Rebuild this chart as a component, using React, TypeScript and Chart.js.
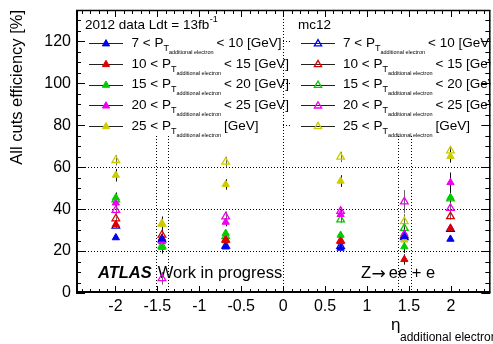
import React, { useEffect, useRef } from 'react';
import { Chart, registerables } from 'chart.js';

Chart.register(...registerables);

// ---- data ----
const etaBins = [-1.995, -1.445, -0.685, 0.685, 1.445, 1.995];
const ptLow = ['7', '10', '15', '20', '25'];
const ptHigh = ['< 10 [GeV]', '< 15 [GeV]', '< 20 [GeV]', '< 25 [GeV]', '[GeV]'];
const seriesColors = ['#0000ee', '#dd0000', '#00cc00', '#ee00ee', '#cccc00'];

// 2012 data (filled triangles)
const dataPt7to10 = [26.4, 25.8, 22.0, 21.4, 26.9, 25.7];
const dataPt10to15 = [32.7, 26.2, 25.0, 24.5, 16.0, 30.9];
const dataPt15to20 = [45.5, 21.8, 28.5, 27.6, 22.1, 45.6];
const dataPt20to25 = [43.0, 24.5, 33.8, 37.5, 28.3, 52.7];
const dataPt25up = [56.2, 33.0, 51.8, 53.4, 25.3, 65.2];

// mc12 (open triangles)
const mcPt7to10 = [32.0, 25.5, 22.5, 22.4, 26.5, 30.5];
const mcPt10to15 = [35.5, 27.7, 25.5, 25.0, 27.5, 36.5];
const mcPt15to20 = [44.5, 22.5, 27.0, 35.0, 30.9, 45.0];
const mcPt20to25 = [39.5, 7.0, 36.4, 39.0, 43.6, 40.5];
const mcPt25up = [63.3, 33.0, 62.5, 64.9, 34.1, 67.9];

// statistical uncertainties
const dataErr7to10 = [1, 2, 1, 1, 2, 1];
const dataErr10to15 = [1, 2, 1, 1, 2.5, 1.5];
const dataErr15to20 = [2.5, 3, 1.5, 1.5, 3, 2.5];
const dataErr20to25 = [2, 3, 2, 2, 3, 4.8];
const dataErr25up = [3, 3.5, 2.5, 2.8, 4, 3];
const mcErr7to10 = [1, 2, 1, 1, 2, 1];
const mcErr10to15 = [1, 2, 1, 1, 2, 1.5];
const mcErr15to20 = [1.5, 2, 1.5, 1.5, 3, 2];
const mcErr20to25 = [2, 3, 2.5, 2, 5.5, 2];
const mcErr25up = [2.5, 3, 2.5, 2.5, 3.5, 2];

const xTicks = [-2, -1.5, -1, -0.5, 0, 0.5, 1, 1.5, 2];
const yTicks = [0, 20, 40, 60, 80, 100, 120];
const gridY = [20, 40, 60, 80, 100, 120];
const gridX = [-1.52, -1.37, 0, 1.37, 1.52];

const dataSeries = [dataPt7to10, dataPt10to15, dataPt15to20, dataPt20to25, dataPt25up];
const mcSeries = [mcPt7to10, mcPt10to15, mcPt15to20, mcPt20to25, mcPt25up];
const dataErrs = [dataErr7to10, dataErr10to15, dataErr15to20, dataErr20to25, dataErr25up];
const mcErrs = [mcErr7to10, mcErr10to15, mcErr15to20, mcErr20to25, mcErr25up];

const FONT = '"Liberation Sans", Arial, Helvetica, sans-serif';

function tri(ctx: CanvasRenderingContext2D, x: number, y: number, r: number, color: string, filled: boolean) {
  ctx.beginPath();
  for (let i = 0; i < 3; i++) {
    const a = (i * 2 * Math.PI) / 3;
    const px = x + Math.sin(a) * r;
    const py = y - Math.cos(a) * r;
    if (i === 0) ctx.moveTo(px, py);
    else ctx.lineTo(px, py);
  }
  ctx.closePath();
  ctx.setLineDash([]);
  ctx.lineWidth = filled ? 1 : 1.3;
  ctx.strokeStyle = color;
  if (filled) {
    ctx.fillStyle = color;
    ctx.fill();
  }
  ctx.stroke();
}

function legendRow(ctx: CanvasRenderingContext2D, xLine: number, xText: number, yc: number, i: number, filled: boolean) {
  ctx.setLineDash([]);
  ctx.strokeStyle = '#222';
  ctx.lineWidth = 1;
  ctx.beginPath();
  ctx.moveTo(xLine, Math.round(yc) + 0.5);
  ctx.lineTo(xLine + 34, Math.round(yc) + 0.5);
  ctx.stroke();
  tri(ctx, xLine + 17, yc + 0.5, 4.2, seriesColors[i], filled);
  ctx.fillStyle = '#000';
  ctx.textBaseline = 'alphabetic';
  ctx.textAlign = 'left';
  const base = yc + 3.5;
  ctx.font = `13.5px ${FONT}`;
  const s = `${ptLow[i]} < P`;
  ctx.fillText(s, xText, base);
  let x = xText + ctx.measureText(s).width;
  ctx.font = `9px ${FONT}`;
  ctx.fillText('T', x, base + 4);
  const tw = ctx.measureText('T').width;
  ctx.font = `5.5px ${FONT}`;
  ctx.fillText('additional electron', x + tw, base + 7);
  x += tw + ctx.measureText('additional electron').width + 3;
  ctx.font = `13.5px ${FONT}`;
  ctx.fillText(ptHigh[i], x, base);
}

const decorPlugin = {
  id: 'decor',
  beforeDatasetsDraw(chart: any) {
    const { ctx, chartArea, scales } = chart;
    const { left, right, top, bottom } = chartArea;
    const xs = scales.x;
    const ys = scales.y;
    ctx.save();
    ctx.beginPath();
    ctx.rect(left, top, right - left, bottom - top);
    ctx.clip();
    // dotted grid
    ctx.strokeStyle = '#000';
    ctx.lineWidth = 1;
    ctx.setLineDash([1, 2]);
    gridY.forEach((v) => {
      const py = Math.round(ys.getPixelForValue(v)) + 0.5;
      ctx.beginPath();
      ctx.moveTo(left, py);
      ctx.lineTo(right, py);
      ctx.stroke();
    });
    gridX.forEach((v) => {
      const px = Math.round(xs.getPixelForValue(v)) + 0.5;
      ctx.beginPath();
      ctx.moveTo(px, top);
      ctx.lineTo(px, bottom);
      ctx.stroke();
    });
    // legend boxes
    ctx.fillStyle = '#fff';
    ctx.fillRect(left, top, 283 - left, 136 - top);
    ctx.fillRect(291, top, right - 291, 136 - top);

    ctx.fillStyle = '#000';
    ctx.textAlign = 'left';
    ctx.textBaseline = 'alphabetic';
    ctx.font = `13.5px ${FONT}`;
    const hdr = '2012 data Ldt = 13fb';
    ctx.fillText(hdr, 85, 28.5);
    const hw = ctx.measureText(hdr).width;
    ctx.font = `9px ${FONT}`;
    ctx.fillText('-1', 85 + hw + 0.5, 22);
    ctx.font = `13.5px ${FONT}`;
    ctx.fillText('mc12', 298, 28.5);
    for (let i = 0; i < 5; i++) {
      const yc = 43.3 + i * 20.7;
      legendRow(ctx, 89, 131.5, yc, i, true);
      legendRow(ctx, 301, 343, yc, i, false);
    }

    // labels
    ctx.fillStyle = '#000';
    ctx.font = `italic bold 16.5px ${FONT}`;
    ctx.fillText('ATLAS', 98, 278);
    const aw = ctx.measureText('ATLAS').width;
    ctx.font = `16.5px ${FONT}`;
    ctx.fillText('Work in progress', 98 + aw + 6, 278);
    ctx.fillText('Z', 361, 278);
    let zx = 361 + ctx.measureText('Z').width + 0.5;
    ctx.font = `17px "DejaVu Sans", ${FONT}`;
    ctx.fillText('\u2192', zx, 279);
    zx += ctx.measureText('\u2192').width + 3;
    ctx.font = `16.5px ${FONT}`;
    ctx.fillText('ee + e', zx, 278);

    // error bars
    ctx.setLineDash([]);
    ctx.lineWidth = 1;
    const drawErr = (vals: number[], errs: number[], color: string) => {
      ctx.strokeStyle = color;
      vals.forEach((v, k) => {
        const px = Math.round(xs.getPixelForValue(etaBins[k])) + 0.5;
        ctx.beginPath();
        ctx.moveTo(px, ys.getPixelForValue(v + errs[k]));
        ctx.lineTo(px, ys.getPixelForValue(v - errs[k]));
        ctx.stroke();
      });
    };
    mcSeries.forEach((s, i) => drawErr(s, mcErrs[i], '#666'));
    dataSeries.forEach((s, i) => drawErr(s, dataErrs[i], '#111'));
    ctx.restore();
  },
  afterDraw(chart: any) {
    const { ctx, chartArea, scales } = chart;
    const { left, right, top, bottom } = chartArea;
    const xs = scales.x;
    const ys = scales.y;
    ctx.save();
    ctx.setLineDash([]);
    ctx.strokeStyle = '#000';
    // ticks
    ctx.lineWidth = 1;
    ctx.beginPath();
    for (let k = -24; k <= 24; k++) {
      const v = k / 10;
      const major = k % 5 === 0;
      const len = major ? 7 : 4;
      const px = Math.round(xs.getPixelForValue(v)) + 0.5;
      ctx.moveTo(px, bottom);
      ctx.lineTo(px, bottom - len);
      ctx.moveTo(px, top);
      ctx.lineTo(px, top + len);
    }
    for (let v = 0; v <= 135; v += 5) {
      const major = v % 20 === 0;
      const len = major ? 9 : 5;
      const py = Math.round(ys.getPixelForValue(v)) + 0.5;
      ctx.moveTo(left, py);
      ctx.lineTo(left + len, py);
      ctx.moveTo(right, py);
      ctx.lineTo(right - len, py);
    }
    ctx.stroke();
    // frame
    ctx.lineWidth = 2;
    ctx.beginPath();
    ctx.moveTo(left + 1, top);
    ctx.lineTo(left + 1, bottom);
    ctx.moveTo(left, bottom - 1);
    ctx.lineTo(right, bottom - 1);
    ctx.stroke();
    ctx.lineWidth = 1.5;
    ctx.beginPath();
    ctx.moveTo(left, top + 0.5);
    ctx.lineTo(right, top + 0.5);
    ctx.moveTo(right - 0.5, top);
    ctx.lineTo(right - 0.5, bottom);
    ctx.stroke();

    // axis titles
    ctx.fillStyle = '#000';
    ctx.textBaseline = 'alphabetic';
    ctx.save();
    ctx.translate(22, 10);
    ctx.rotate(-Math.PI / 2);
    ctx.textAlign = 'right';
    ctx.font = `16.5px ${FONT}`;
    ctx.fillText('All cuts efficiency [%]', 0, 0);
    ctx.restore();

    ctx.textAlign = 'left';
    ctx.font = `17px ${FONT}`;
    ctx.fillText('\u03b7', 391, 330);
    ctx.font = `12px ${FONT}`;
    ctx.fillText('additional electron', 400, 341);
    ctx.restore();
  },
};

export default function App() {
  const ref = useRef<HTMLCanvasElement | null>(null);
  useEffect(() => {
    document.body.style.margin = '0';
    document.body.style.overflow = 'hidden';
    const canvas = ref.current;
    if (!canvas) return;
    const datasets: any[] = [];
    dataSeries.forEach((s, i) => {
      datasets.push({
        label: `data ${ptLow[i]}`,
        data: s.map((v, k) => ({ x: etaBins[k], y: v })),
        pointStyle: 'triangle',
        pointRadius: 4.2,
        pointBorderWidth: 1,
        pointBackgroundColor: seriesColors[i],
        pointBorderColor: seriesColors[i],
        showLine: false,
      });
    });
    mcSeries.forEach((s, i) => {
      datasets.push({
        label: `mc ${ptLow[i]}`,
        data: s.map((v, k) => ({ x: etaBins[k], y: v })),
        pointStyle: 'triangle',
        pointRadius: 4.4,
        pointBorderWidth: 1.3,
        pointBackgroundColor: 'rgba(0,0,0,0)',
        pointBorderColor: seriesColors[i],
        showLine: false,
      });
    });
    const chart = new Chart(canvas, {
      type: 'scatter',
      data: { datasets },
      plugins: [decorPlugin],
      options: {
        animation: false,
        responsive: false,
        devicePixelRatio: 1,
        layout: { padding: { top: 10, right: 1, left: 0, bottom: 0 } },
        plugins: { legend: { display: false }, tooltip: { enabled: false } },
        scales: {
          x: {
            type: 'linear',
            min: -2.47,
            max: 2.47,
            afterBuildTicks: (s: any) => {
              s.ticks = xTicks.map((v) => ({ value: v }));
            },
            afterFit: (s: any) => {
              s.height = 51;
              s.paddingLeft = 0;
              s.paddingRight = 0;
            },
            ticks: {
              font: { family: FONT, size: 16 },
              color: '#000',
              padding: 4,
              maxRotation: 0,
              autoSkip: false,
              callback: (v: any) => String(v),
            },
            grid: { display: false, drawTicks: false },
            border: { display: false },
          },
          y: {
            type: 'linear',
            min: 0,
            max: 135,
            afterBuildTicks: (s: any) => {
              s.ticks = yTicks.map((v) => ({ value: v }));
            },
            afterFit: (s: any) => {
              s.width = 76;
              s.paddingTop = 0;
              s.paddingBottom = 0;
            },
            ticks: {
              font: { family: FONT, size: 16 },
              color: '#000',
              padding: 5,
              autoSkip: false,
              callback: (v: any) => String(v),
            },
            grid: { display: false, drawTicks: false },
            border: { display: false },
          },
        },
      },
    });
    return () => chart.destroy();
  }, []);
  return (
    <div style={{ position: 'fixed', left: 0, top: 0, width: 493, height: 344, overflow: 'hidden', background: '#fff' }}>
      <canvas ref={ref} width={496} height={344} style={{ display: 'block' }} />
    </div>
  );
}
